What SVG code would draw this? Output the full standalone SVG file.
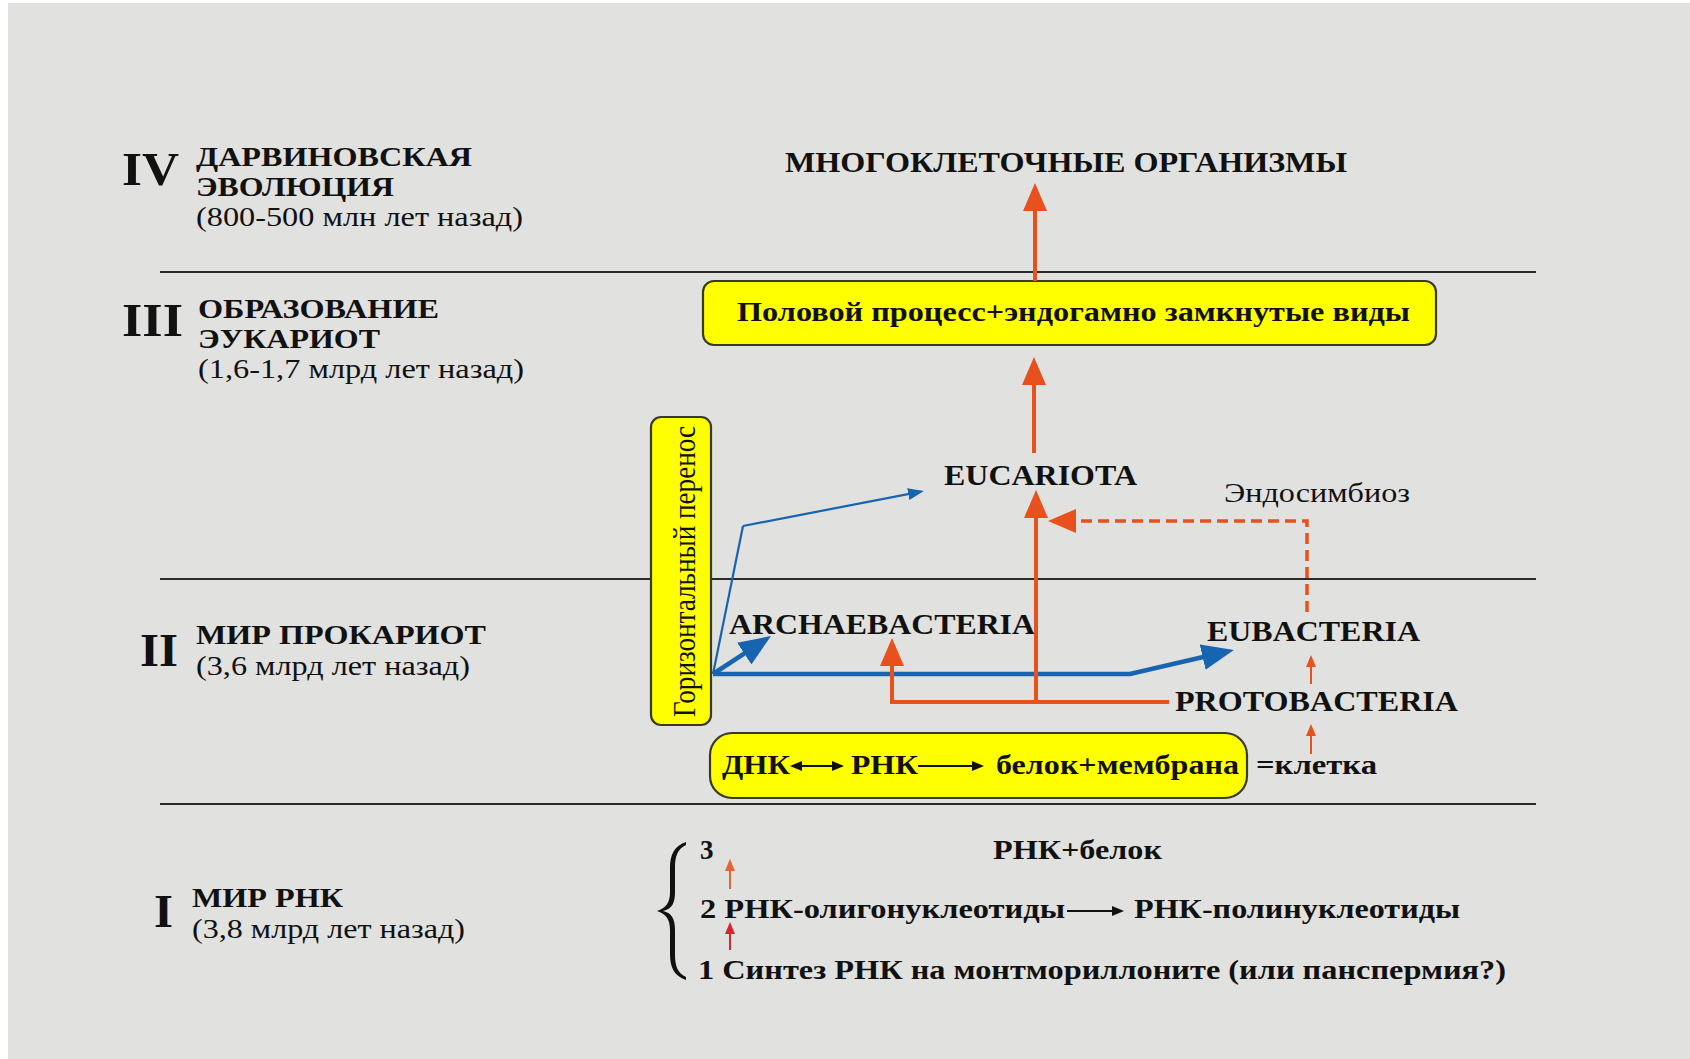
<svg xmlns="http://www.w3.org/2000/svg" width="1690" height="1059" viewBox="0 0 1690 1059">
<style>
text{font-family:"Liberation Serif","Times New Roman",serif;fill:#111}
.rn{font-size:47px;font-weight:bold}
.h{font-size:27px;font-weight:bold}
.s{font-size:27px}
.n{font-size:30px;font-weight:bold}
.b{font-size:27px;font-weight:bold}
.sep{stroke:#2a2a2a;stroke-width:2.2}
.ybox{fill:#ffff00;stroke:#3a3a2a;stroke-width:2.2}
.red{fill:none;stroke:#e8501e;stroke-width:4}
.redd{fill:none;stroke:#e8501e;stroke-width:3.5;stroke-dasharray:11 6}
.blue{fill:none;stroke:#1764b0;stroke-width:4.5}
.bluet{fill:none;stroke:#1764b0;stroke-width:2.2}
.redt{fill:none;stroke:#e8501e;stroke-width:2}
.blk{fill:none;stroke:#111;stroke-width:2}
</style>
<defs>
<marker id="hr" markerUnits="userSpaceOnUse" markerWidth="28" markerHeight="24" refX="22" refY="12" orient="auto"><path d="M0,0 L28,12 L0,24 z" fill="#e8501e"/></marker>
<marker id="hb" markerUnits="userSpaceOnUse" markerWidth="32" markerHeight="26" refX="26" refY="13" orient="auto"><path d="M0,0 L32,13 L0,26 z" fill="#1764b0"/></marker>
<marker id="hbt" markerUnits="userSpaceOnUse" markerWidth="16" markerHeight="12" refX="13" refY="6" orient="auto"><path d="M0,0 L16,6 L0,12 z" fill="#1764b0"/></marker>
<marker id="hrs" markerUnits="userSpaceOnUse" markerWidth="12" markerHeight="10" refX="10" refY="5" orient="auto"><path d="M0,0 L12,5 L0,10 z" fill="#e8501e"/></marker>
<marker id="hos" markerUnits="userSpaceOnUse" markerWidth="12" markerHeight="10" refX="10" refY="5" orient="auto"><path d="M0,0 L12,5 L0,10 z" fill="#e2662e"/></marker>
<marker id="hds" markerUnits="userSpaceOnUse" markerWidth="12" markerHeight="10" refX="10" refY="5" orient="auto"><path d="M0,0 L12,5 L0,10 z" fill="#d8262e"/></marker>
<marker id="hk" markerUnits="userSpaceOnUse" markerWidth="12" markerHeight="10" refX="10" refY="5" orient="auto-start-reverse"><path d="M0,0 L12,5 L0,10 z" fill="#111"/></marker>
</defs>
<rect x="0" y="0" width="1690" height="1059" fill="#ffffff"/>
<rect x="8" y="3" width="1682" height="1056" fill="#e1e1df"/>

<g id="separators">
<line class="sep" x1="160" y1="272" x2="1536" y2="272"/>
<line class="sep" x1="160" y1="579" x2="1536" y2="579"/>
<line class="sep" x1="160" y1="804" x2="1536" y2="804"/>
</g>

<g id="era-IV">
<text class="rn" x="122" y="185" textLength="57" lengthAdjust="spacingAndGlyphs">IV</text>
<text class="h" x="196" y="166" textLength="276" lengthAdjust="spacingAndGlyphs">ДАРВИНОВСКАЯ</text>
<text class="h" x="196" y="196" textLength="198" lengthAdjust="spacingAndGlyphs">ЭВОЛЮЦИЯ</text>
<text class="s" x="196" y="226" textLength="327" lengthAdjust="spacingAndGlyphs">(800-500 млн лет назад)</text>
</g>
<g id="era-III">
<text class="rn" x="122" y="336" textLength="61" lengthAdjust="spacingAndGlyphs">III</text>
<text class="h" x="198" y="318" textLength="241" lengthAdjust="spacingAndGlyphs">ОБРАЗОВАНИЕ</text>
<text class="h" x="198" y="348" textLength="182" lengthAdjust="spacingAndGlyphs">ЭУКАРИОТ</text>
<text class="s" x="198" y="378" textLength="326" lengthAdjust="spacingAndGlyphs">(1,6-1,7 млрд лет назад)</text>
</g>
<g id="era-II">
<text class="rn" x="140" y="666" textLength="38" lengthAdjust="spacingAndGlyphs">II</text>
<text class="h" x="196" y="644" textLength="290" lengthAdjust="spacingAndGlyphs">МИР ПРОКАРИОТ</text>
<text class="s" x="196" y="675" textLength="274" lengthAdjust="spacingAndGlyphs">(3,6 млрд лет назад)</text>
</g>
<g id="era-I">
<text class="rn" x="154" y="927" textLength="19" lengthAdjust="spacingAndGlyphs">I</text>
<text class="h" x="192" y="907" textLength="151" lengthAdjust="spacingAndGlyphs">МИР РНК</text>
<text class="s" x="192" y="938" textLength="273" lengthAdjust="spacingAndGlyphs">(3,8 млрд лет назад)</text>
</g>

<g id="node-multicellular">
<text class="n" x="785" y="172" textLength="562" lengthAdjust="spacingAndGlyphs">МНОГОКЛЕТОЧНЫЕ ОРГАНИЗМЫ</text>
</g>
<g id="node-sexual">
<rect class="ybox" x="703" y="281" width="733" height="64" rx="11"/>
<text class="b" x="737" y="321" textLength="673" lengthAdjust="spacingAndGlyphs">Половой процесс+эндогамно замкнутые виды</text>
</g>
<g id="node-horizontal">
<rect class="ybox" x="651" y="417" width="60" height="308" rx="10"/>
<text class="s" transform="translate(695,717) scale(1.2,1) rotate(-90)" x="0" y="0" textLength="291" lengthAdjust="spacingAndGlyphs">Горизонтальный перенос</text>
</g>
<g id="node-eucariota">
<text class="n" x="944" y="485" textLength="193" lengthAdjust="spacingAndGlyphs">EUCARIOTA</text>
</g>
<g id="node-endosymbiosis">
<text class="s" x="1224" y="502" textLength="186" lengthAdjust="spacingAndGlyphs">Эндосимбиоз</text>
</g>
<g id="node-archaebacteria">
<text class="n" x="729" y="634" textLength="306" lengthAdjust="spacingAndGlyphs">ARCHAEBACTERIA</text>
</g>
<g id="node-eubacteria">
<text class="n" x="1207" y="641" textLength="213" lengthAdjust="spacingAndGlyphs">EUBACTERIA</text>
</g>
<g id="node-protobacteria">
<text class="n" x="1175" y="711" textLength="283" lengthAdjust="spacingAndGlyphs">PROTOBACTERIA</text>
</g>
<g id="node-cell">
<rect class="ybox" x="710" y="733" width="537" height="65" rx="22"/>
<text class="b" x="722" y="774" textLength="68" lengthAdjust="spacingAndGlyphs">ДНК</text>
<text class="b" x="851" y="774" textLength="67" lengthAdjust="spacingAndGlyphs">РНК</text>
<text class="b" x="996" y="774" textLength="243" lengthAdjust="spacingAndGlyphs">белок+мембрана</text>
<text class="b" x="1256" y="774" textLength="121" lengthAdjust="spacingAndGlyphs">=клетка</text>
</g>
<g id="node-rna-world">
<path d="M686,842 C674,846 670,855 670,868 L670,892 C670,903 666,908 657,911 C666,914 670,919 670,930 L670,954 C670,967 674,976 686,980 L686,977 C677,973 675,965 675,954 L675,930 C675,919 672,913 663,911 C672,909 675,903 675,892 L675,868 C675,857 677,849 686,845 z" fill="#111"/>
<text class="b" x="700" y="859">3</text>
<text class="b" x="993" y="859" textLength="169" lengthAdjust="spacingAndGlyphs">РНК+белок</text>
<text class="b" x="700" y="918" textLength="365" lengthAdjust="spacingAndGlyphs">2 РНК-олигонуклеотиды</text>
<text class="b" x="1134" y="918" textLength="326" lengthAdjust="spacingAndGlyphs">РНК-полинуклеотиды</text>
<text class="b" x="698" y="979" textLength="808" lengthAdjust="spacingAndGlyphs">1 Синтез РНК на монтмориллоните (или панспермия?)</text>
</g>

<g id="connectors">
<line class="bluet" x1="713" y1="674" x2="743" y2="526"/>
<polyline class="bluet" points="743,526 921,491.6" marker-end="url(#hbt)"/>
<line class="blue" x1="713" y1="674" x2="766" y2="639.3" marker-end="url(#hb)"/>
<polyline class="blue" points="713,674 1130,674 1228,651.3" marker-end="url(#hb)"/>
<line class="red" x1="1035" y1="281" x2="1035" y2="189" marker-end="url(#hr)"/>
<line class="red" x1="1034" y1="453" x2="1034" y2="363" marker-end="url(#hr)"/>
<line class="red" x1="1036" y1="702" x2="1036" y2="496" marker-end="url(#hr)"/>
<polyline class="red" points="1169,702 892,702 892,644" marker-end="url(#hr)"/>
<polyline class="redd" points="1307,612 1307,521 1054,521" marker-end="url(#hr)"/>
<line class="redt" x1="1311" y1="684" x2="1311" y2="657" marker-end="url(#hrs)"/>
<line class="redt" x1="1311" y1="754" x2="1311" y2="726" marker-end="url(#hrs)"/>
<line class="blk" x1="792" y1="766" x2="842" y2="766" marker-start="url(#hk)" marker-end="url(#hk)"/>
<line class="blk" x1="918" y1="766" x2="982" y2="766" marker-end="url(#hk)"/>
<line class="blk" x1="1067" y1="911" x2="1122" y2="911" marker-end="url(#hk)"/>
<line fill="none" stroke="#e2662e" stroke-width="2" x1="730" y1="889" x2="730" y2="861" marker-end="url(#hos)"/>
<line fill="none" stroke="#d8262e" stroke-width="2" x1="730" y1="950" x2="730" y2="924" marker-end="url(#hds)"/>
</g>
</svg>
